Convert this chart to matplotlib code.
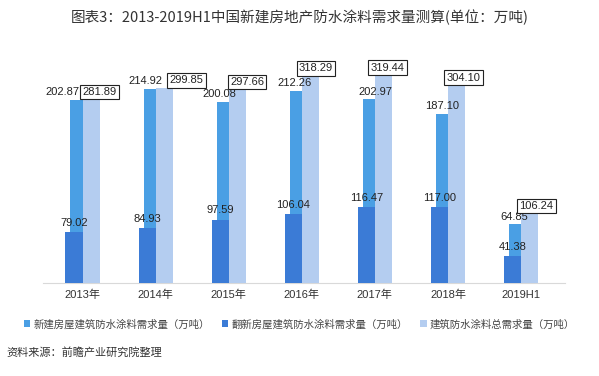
import numpy as np
import matplotlib.pyplot as plt

plt.rcParams['font.family'] = ['Liberation Sans', 'Noto Sans CJK SC']

# data (万吨)
years = ['2013年', '2014年', '2015年', '2016年', '2017年', '2018年', '2019H1']
new_build = [202.87, 214.92, 200.08, 212.26, 202.97, 187.10, 64.85]
renovation = [79.02, 84.93, 97.59, 106.04, 116.47, 117.00, 41.38]
total = [281.89, 299.85, 297.66, 318.29, 319.44, 304.10, 106.24]

c_new = '#4a9fe4'
c_ren = '#3b7bd6'
c_tot = '#b4cdf0'

x = np.arange(len(years))
w = 0.235

fig = plt.figure(figsize=(5.99, 3.76), dpi=100)
ax = fig.add_axes([0.072, 0.247, 0.871, 0.633])
ax2 = ax.twinx()

# new-build series sits on its own (secondary) scale, behind the others
b_new = ax.bar(x - 0.048, new_build, w, color=c_new, zorder=1)
b_ren = ax2.bar(x - 0.117, renovation, w, color=c_ren, zorder=2)
b_tot = ax2.bar(x + 0.117, total, w, color=c_tot, zorder=2)

ax.set_xlim(-0.54, 6.6)
ax.set_ylim(0, 263)
ax2.set_ylim(0, 366)

for a in (ax, ax2):
    for s in a.spines.values():
        s.set_visible(False)
    a.set_yticks([])
ax.spines['bottom'].set_visible(True)
ax.spines['bottom'].set_color('#d9d9d9')
ax.set_xticks(x)
ax.set_xticklabels(years, fontsize=8, color='#333333')
ax.tick_params(axis='x', length=0, pad=5)

# value labels (all put on the top axes so they sit above every bar)
new_dx = [-12, -5, -4, -3, 3, -2, -2]
for i, v in enumerate(new_build):
    ax2.annotate(f'{v:.2f}', (x[i] - 0.048, v), xycoords=ax.transData,
                 xytext=(new_dx[i], 2), textcoords='offset points',
                 ha='center', va='bottom', fontsize=8, color='#222222', zorder=5)
for i, v in enumerate(renovation):
    ax2.annotate(f'{v:.2f}', (x[i] - 0.117, v), xytext=(0, 3),
                 textcoords='offset points', ha='center', va='bottom',
                 fontsize=8, color='#222222', zorder=5)
box_dx = [6, 16, 7, 4, 3, 5, 5]
for i, v in enumerate(total):
    ax2.annotate(f'{v:.2f}', (x[i] + 0.117, v), xytext=(box_dx[i], 2),
                 textcoords='offset points', ha='center', va='bottom',
                 fontsize=8, color='#222222', zorder=6,
                 bbox=dict(boxstyle='square,pad=0.2', fc='white', ec='#222222', lw=0.8))

fig.text(0.5, 0.955, '图表3：2013-2019H1中国新建房地产防水涂料需求量测算(单位：万吨)',
         ha='center', va='center', fontsize=10.5, color='#333333',
         family=['Noto Sans CJK SC'])

fig.legend([b_new, b_ren, b_tot],
           ['新建房屋建筑防水涂料需求量（万吨）', '翻新房屋建筑防水涂料需求量（万吨）',
            '建筑防水涂料总需求量（万吨）'],
           loc='center', bbox_to_anchor=(0.5, 0.138), ncol=3, frameon=False,
           handlelength=0.6, handleheight=0.6, handletextpad=0.3,
           columnspacing=1.2, labelcolor='#444444',
           prop={'family': ['Noto Sans CJK SC'], 'size': 7.5})

fig.text(0.01, 0.062, '资料来源：前瞻产业研究院整理', ha='left', va='center',
         fontsize=8, color='#333333', style='italic', family=['Noto Sans CJK SC'])

fig.savefig('out.png', dpi=100)
